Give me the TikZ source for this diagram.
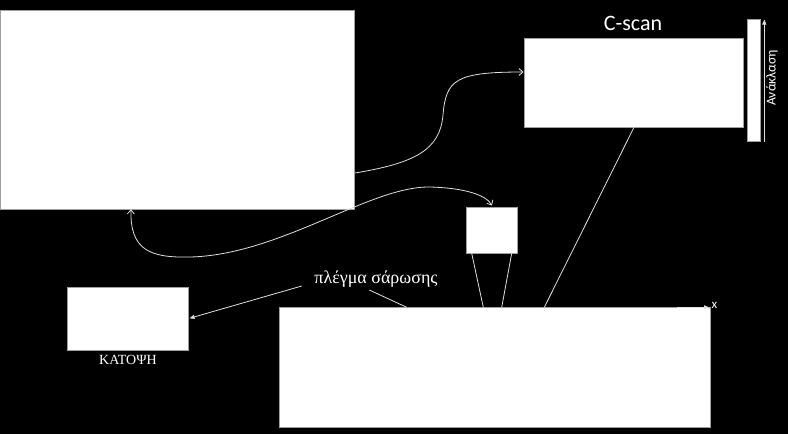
\documentclass[tikz,border=0pt]{standalone}
\usepackage{fontspec}
\setmainfont{Liberation Serif}
\newfontfamily\calib{Carlito}
\usetikzlibrary{arrows.meta}
\begin{document}
\begin{tikzpicture}[x=1pt,y=-1pt,
  box/.style={draw=gray!75,fill=white,line width=0.8pt,inner sep=0pt,outer sep=0pt,rectangle},
  wire/.style={draw=white!88!black,line width=0.8pt},
  openhead/.style={-{Straight Barb[length=4pt,width=7pt]}},
  filledhead/.style={-{Triangle[length=5pt,width=4pt]}},
  lbl/.style={text=white,inner sep=0pt}]
\fill[black] (0,0) rectangle (788,434);
\useasboundingbox (0,0) rectangle (788,434);
% boxes
\node[box,minimum width=354pt,minimum height=198.6pt] (big) at (177,110) {};
\node[box,minimum width=219pt,minimum height=89pt] (cscan) at (633.5,82.8) {};
\node[box,minimum width=12.5pt,minimum height=122.4pt] (bar) at (753.7,80.5) {};
\node[box,minimum width=51pt,minimum height=46pt] (probe) at (492.2,230.3) {};
\node[box,minimum width=121.4pt,minimum height=62.7pt] (plan) at (128,318.7) {};
\node[box,minimum width=431.4pt,minimum height=120.4pt] (spec) at (495,367.5) {};
% labels
\node[lbl,anchor=base,font=\calib\fontsize{22}{26}\selectfont] (cscanlbl) at (633,30) {C-scan};
\node[lbl,rotate=90,font=\calib\fontsize{13.5}{15}\selectfont] (refl) at (772,78) {Ανάκλαση};
\node[lbl,font=\fontsize{14}{16}\selectfont] (katopsi) at (128,360) {ΚΑΤΟΨΗ};
\node[lbl,font=\fontsize{18}{21}\selectfont] (grid) at (376,279) {πλέγμα σάρωσης};
\node[lbl,font=\calib\fontsize{13}{15}\selectfont] (xlbl) at (714.5,305.5) {x};
% coordinates
\coordinate (bigout) at (355,173);
\coordinate (cscanin) at (523.5,72);
\coordinate (bigin) at (131,209.3);
\coordinate (probein) at (492,205.5);
\coordinate (pbl) at (471.7,253.3);
\coordinate (pbr) at (511.7,253.3);
\coordinate (sbl) at (483.3,307.3);
\coordinate (sbr) at (501.7,307.3);
\coordinate (cbot) at (634,127.3);
\coordinate (sc) at (544.3,307.3);
\coordinate (gl) at (301.7,286);
\coordinate (planin) at (189.5,318.3);
\coordinate (gr) at (369.3,290);
\coordinate (sg) at (406.7,307.3);
\coordinate (xs) at (677,307.3);
\coordinate (xe) at (709,307.3);
\coordinate (bars) at (764.3,141.7);
\coordinate (bare) at (764.3,19.5);
% connectors
\draw[wire,openhead] (bigout) .. controls (415,163) and (440,150) .. (443,115)
   .. controls (446,80) and (455,72) .. (cscanin);
\draw[wire,{Straight Barb[length=4pt,width=7pt]}-{Straight Barb[length=4pt,width=7pt]}]
   (bigin) .. controls (130,250) and (150,258) .. (190,257)
   .. controls (280,255) and (370,186) .. (430,187)
   .. controls (465,188) and (486,195) .. (probein);
\draw[wire] (pbl) -- (sbl);
\draw[wire] (pbr) -- (sbr);
\draw[wire] (cbot) -- (sc);
\draw[wire,filledhead] (gl) -- (planin);
\draw[wire] (gr) -- (sg);
\draw[wire,filledhead] (xs) -- (xe);
\draw[wire,filledhead] (bars) -- (bare);
\end{tikzpicture}
\end{document}
